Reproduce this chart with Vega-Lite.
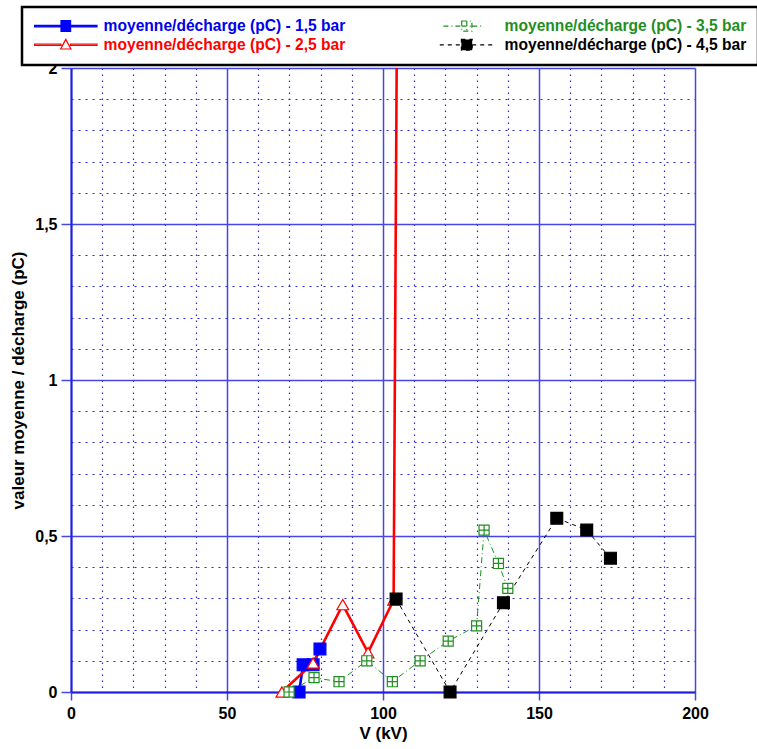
{
  "$schema": "https://vega.github.io/schema/vega-lite/v6.json",
  "width": 624,
  "height": 624,
  "autosize": {"type": "none"},
  "padding": {"left": 71, "top": 68, "right": 62, "bottom": 57},
  "config": {
    "view": {"stroke": null},
    "font": "Liberation Sans",
    "legend": {"strokeWidth": 2.5}
  },
  "data": {
    "values": [
      {"s": "moyenne/décharge (pC) - 1,5 bar", "v": 73.1, "q": 0},
      {"s": "moyenne/décharge (pC) - 1,5 bar", "v": 74.4, "q": 0.087},
      {"s": "moyenne/décharge (pC) - 1,5 bar", "v": 77.6, "q": 0.087},
      {"s": "moyenne/décharge (pC) - 1,5 bar", "v": 79.8, "q": 0.138},
      {"s": "moyenne/décharge (pC) - 2,5 bar", "v": 67.6, "q": 0},
      {"s": "moyenne/décharge (pC) - 2,5 bar", "v": 77.6, "q": 0.093},
      {"s": "moyenne/décharge (pC) - 2,5 bar", "v": 87.1, "q": 0.28},
      {"s": "moyenne/décharge (pC) - 2,5 bar", "v": 95.2, "q": 0.126},
      {"s": "moyenne/décharge (pC) - 2,5 bar", "v": 103.4, "q": 0.295},
      {"s": "moyenne/décharge (pC) - 2,5 bar", "v": 104.55, "q": 2.3},
      {"s": "moyenne/décharge (pC) - 3,5 bar", "v": 69.9, "q": 0},
      {"s": "moyenne/décharge (pC) - 3,5 bar", "v": 77.9, "q": 0.046},
      {"s": "moyenne/décharge (pC) - 3,5 bar", "v": 85.9, "q": 0.033},
      {"s": "moyenne/décharge (pC) - 3,5 bar", "v": 94.8, "q": 0.1},
      {"s": "moyenne/décharge (pC) - 3,5 bar", "v": 103, "q": 0.033},
      {"s": "moyenne/décharge (pC) - 3,5 bar", "v": 111.9, "q": 0.1},
      {"s": "moyenne/décharge (pC) - 3,5 bar", "v": 120.9, "q": 0.163},
      {"s": "moyenne/décharge (pC) - 3,5 bar", "v": 130, "q": 0.212},
      {"s": "moyenne/décharge (pC) - 3,5 bar", "v": 132.4, "q": 0.519},
      {"s": "moyenne/décharge (pC) - 3,5 bar", "v": 137, "q": 0.412},
      {"s": "moyenne/décharge (pC) - 3,5 bar", "v": 140, "q": 0.332},
      {"s": "moyenne/décharge (pC) - 4,5 bar", "v": 104.2, "q": 0.298},
      {"s": "moyenne/décharge (pC) - 4,5 bar", "v": 121.5, "q": 0},
      {"s": "moyenne/décharge (pC) - 4,5 bar", "v": 138.6, "q": 0.286},
      {"s": "moyenne/décharge (pC) - 4,5 bar", "v": 155.7, "q": 0.557},
      {"s": "moyenne/décharge (pC) - 4,5 bar", "v": 165.3, "q": 0.519},
      {"s": "moyenne/décharge (pC) - 4,5 bar", "v": 172.9, "q": 0.429}
    ]
  },
  "encoding": {
    "x": {
      "field": "v", "type": "quantitative",
      "scale": {"domain": [0, 200], "nice": false, "zero": false},
      "axis": {
        "values": [0,10,20,30,40,50,60,70,80,90,100,110,120,130,140,150,160,170,180,190,200],
        "format": "d",
        "labelExpr": "datum.value % 50 === 0 ? datum.label : ''",
        "title": "V (kV)",
        "titleFont": "Liberation Sans", "titleFontSize": 17, "titleFontWeight": "bold", "titleColor": "black", "titlePadding": 4,
        "labelFont": "Liberation Sans", "labelFontSize": 16, "labelFontWeight": "bold", "labelColor": "black", "labelPadding": 5,
        "labelOverlap": false, "labelFlush": false,
        "grid": true,
        "gridColor": {"condition": {"test": "datum.value % 50 === 0", "value": "#4646e6"}, "value": "#2a2ad8"},
        "gridWidth": {"condition": {"test": "datum.value % 50 === 0", "value": 1.5}, "value": 1.2},
        "gridDash": {"condition": {"test": "datum.value % 50 === 0", "value": []}, "value": [1.5, 4.5]},
        "tickOpacity": {"condition": {"test": "datum.value % 50 === 0", "value": 1}, "value": 0},
        "tickColor": "#4646e6", "tickSize": 8, "tickWidth": 1.5,
        "domainColor": "#1e1ee0", "domainWidth": 2
      }
    },
    "y": {
      "field": "q", "type": "quantitative",
      "scale": {"domain": [0, 2], "nice": false},
      "axis": {
        "values": [0,0.1,0.2,0.3,0.4,0.5,0.6,0.7,0.8,0.9,1,1.1,1.2,1.3,1.4,1.5,1.6,1.7,1.8,1.9,2],
        "format": ".1~f",
        "labelExpr": "abs(datum.value*2 - round(datum.value*2)) < 0.000001 ? replace(datum.label, '.', ',') : ''",
        "title": "valeur moyenne / décharge (pC)",
        "titleFont": "Liberation Sans", "titleFontSize": 17, "titleFontWeight": "bold", "titleColor": "black", "titlePadding": 7,
        "labelFont": "Liberation Sans", "labelFontSize": 16, "labelFontWeight": "bold", "labelColor": "black", "labelPadding": 4,
        "labelOverlap": false, "labelFlush": false,
        "grid": true,
        "gridColor": {"condition": {"test": "abs(datum.value*2 - round(datum.value*2)) < 0.000001", "value": "#4646e6"}, "value": "#2a2ad8"},
        "gridWidth": {"condition": {"test": "abs(datum.value*2 - round(datum.value*2)) < 0.000001", "value": 1.5}, "value": 1.2},
        "gridDash": {"condition": {"test": "abs(datum.value*2 - round(datum.value*2)) < 0.000001", "value": []}, "value": [2, 5]},
        "tickOpacity": {"condition": {"test": "abs(datum.value*2 - round(datum.value*2)) < 0.000001", "value": 1}, "value": 0},
        "tickColor": "#4646e6", "tickSize": 10, "tickWidth": 1.5,
        "domainColor": "#1e1ee0", "domainWidth": 2
      }
    }
  },
  "layer": [
    {
      "transform": [{"filter": "indexof(datum.s, '1,5') >= 0 || indexof(datum.s, '2,5') >= 0"}],
      "mark": {"type": "line", "strokeWidth": 2.6, "clip": true},
      "encoding": {
        "color": {
          "field": "s", "type": "nominal",
          "scale": {
            "domain": ["moyenne/décharge (pC) - 1,5 bar", "moyenne/décharge (pC) - 2,5 bar", "moyenne/décharge (pC) - 3,5 bar", "moyenne/décharge (pC) - 4,5 bar"],
            "range": ["#0000ff", "#ff0000", "#1f8f1f", "#000000"]
          },
          "legend": {
            "orient": "none", "legendX": -49, "legendY": -61,
            "title": null, "columns": 2, "columnPadding": 88, "rowPadding": 1,
            "padding": 11, "strokeColor": "black", "fillColor": "white",
            "labelFont": "Liberation Sans", "labelFontSize": 15.6, "labelFontWeight": "bold", "labelLimit": 400,
            "labelOffset": 30, "symbolOffset": 25, "symbolSize": 144, "symbolStrokeWidth": 1.2,
            "labelColor": {"expr": "indexof(datum.value,'1,5')>=0 ? '#0000ee' : indexof(datum.value,'2,5')>=0 ? '#ff0000' : indexof(datum.value,'3,5')>=0 ? '#1f8f1f' : '#000000'"},
            "symbolType": {"expr": "indexof(datum.value,'1,5')>=0 ? 'M-5.2,-0.12H5.2V0.12H-5.2ZM-0.8,-0.9H0.8V0.9H-0.8Z' : indexof(datum.value,'2,5')>=0 ? 'M-5.2,-0.12H-0.8V0.12H-5.2ZM0.8,-0.12H5.2V0.12H0.8ZM0,-0.9L0.85,0.7H-0.85Z' : indexof(datum.value,'3,5')>=0 ? 'M-3.9,0H-0.9M0.9,0H2.7M-0.85,-0.85H0.85V0.85H-0.85ZM0,-0.85V0.85M-0.85,0H0.85' : 'M-4.5,0H-0.9M0.9,0H4.5M-0.9,-0.9H0.9V0.9H-0.9Z'"},
            "symbolDash": {"expr": "indexof(datum.value,'3,5')>=0 ? [5,3,1,3] : indexof(datum.value,'4,5')>=0 ? [4,4] : []"},
            "symbolFillColor": {"expr": "indexof(datum.value,'1,5')>=0 ? '#0000ff' : indexof(datum.value,'4,5')>=0 ? '#000000' : '#ffffff'"}
          }
        }
      }
    },
    {
      "transform": [{"filter": "indexof(datum.s, '3,5') >= 0 || indexof(datum.s, '4,5') >= 0"}],
      "mark": {"type": "line", "strokeWidth": 1, "clip": true},
      "encoding": {
        "color": {
          "field": "s", "type": "nominal",
          "scale": {
            "domain": ["moyenne/décharge (pC) - 1,5 bar", "moyenne/décharge (pC) - 2,5 bar", "moyenne/décharge (pC) - 3,5 bar", "moyenne/décharge (pC) - 4,5 bar"],
            "range": ["#0000ff", "#ff0000", "#1f8f1f", "#000000"]
          }
        },
        "strokeDash": {
          "field": "s", "type": "nominal",
          "scale": {"domain": ["moyenne/décharge (pC) - 3,5 bar", "moyenne/décharge (pC) - 4,5 bar"], "range": [[6, 3, 1, 3], [4, 4]]},
          "legend": null
        }
      }
    },
    {
      "mark": {"type": "point", "size": 140, "opacity": 1, "strokeWidth": 1.2, "filled": false},
      "encoding": {
        "shape": {
          "field": "s", "type": "nominal",
          "scale": {
            "domain": ["moyenne/décharge (pC) - 4,5 bar", "moyenne/décharge (pC) - 3,5 bar", "moyenne/décharge (pC) - 2,5 bar", "moyenne/décharge (pC) - 1,5 bar"],
            "range": ["square", "M-0.85,-0.85H0.85V0.85H-0.85ZM0,-0.85V0.85M-0.85,0H0.85", "triangle-up", "square"]
          },
          "legend": null
        },
        "stroke": {
          "field": "s", "type": "nominal",
          "scale": {
            "domain": ["moyenne/décharge (pC) - 4,5 bar", "moyenne/décharge (pC) - 3,5 bar", "moyenne/décharge (pC) - 2,5 bar", "moyenne/décharge (pC) - 1,5 bar"],
            "range": ["#000000", "#1f8f1f", "#ff0000", "#0000ff"]
          },
          "legend": null
        },
        "fill": {
          "field": "s", "type": "nominal",
          "scale": {
            "domain": ["moyenne/décharge (pC) - 4,5 bar", "moyenne/décharge (pC) - 3,5 bar", "moyenne/décharge (pC) - 2,5 bar", "moyenne/décharge (pC) - 1,5 bar"],
            "range": ["#000000", "#ffffff", "#ffffff", "#0000ff"]
          },
          "legend": null
        }
      }
    }
  ]
}
